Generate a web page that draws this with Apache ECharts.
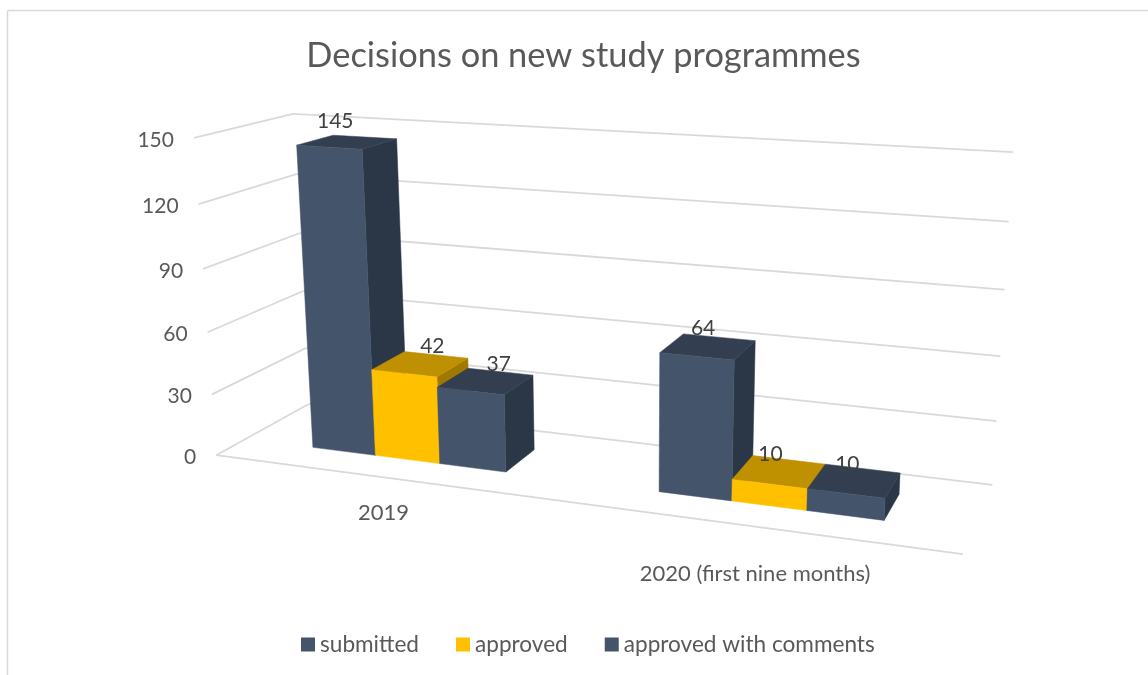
<!DOCTYPE html>
<html><head><meta charset="utf-8">
<style>html,body{margin:0;padding:0;background:#fff}#c{width:1148px;height:675px}</style>
<script src="https://cdn.jsdelivr.net/npm/echarts@6/dist/echarts.min.js"></script>
</head><body><div id="c"></div>
<script>
// ---- data ----
const categories = ['2019', '2020 (first nine months)'];
const submitted = [145, 64];
const approved = [42, 10];
const approvedWithComments = [37, 10];
const valueTicks = [0, 30, 60, 90, 120, 150];

// ---- view: unit cube corners (u along categories, d into depth, v up) -> screen ----
const cubeRefs = [
  [0,0,0, 215,456],[1,0,0, 963,553],[0,1,0, 310,403],[1,1,0, 992,486],
  [0,0,1, 195,138],[0,1,1, 292,114],[1,1,1, 1013,152]
];
function solveCamera(refs){
  const A=[],b=[];
  refs.forEach(r=>{const [u,d,v,x,y]=r;
    A.push([u,d,v,1,0,0,0,0,-x*u,-x*d,-x*v]);b.push(x);
    A.push([0,0,0,0,u,d,v,1,-y*u,-y*d,-y*v]);b.push(y);});
  const n=11,M=[];
  for(let i=0;i<n;i++){M.push([]);for(let j=0;j<=n;j++){let s=0;
    for(let k=0;k<A.length;k++)s+=A[k][i]*(j<n?A[k][j]:b[k]);M[i].push(s);}}
  for(let i=0;i<n;i++){let p=i;for(let r=i+1;r<n;r++)if(Math.abs(M[r][i])>Math.abs(M[p][i]))p=r;
    [M[i],M[p]]=[M[p],M[i]];
    for(let r=0;r<n;r++)if(r!==i){const f=M[r][i]/M[i][i];for(let c=i;c<=n;c++)M[r][c]-=f*M[i][c];}}
  return M.map((row,i)=>row[n]/row[i]);
}
const cam = solveCamera(cubeRefs);
function proj(u,d,v){
  const w=cam[8]*u+cam[9]*d+cam[10]*v+1;
  return [(cam[0]*u+cam[1]*d+cam[2]*v+cam[3])/w,(cam[4]*u+cam[5]*d+cam[6]*v+cam[7])/w];
}
const DEPTH_FRONT=0.3, DEPTH_BACK=0.69, BAR_SHARE=0.192;
const barLabelNudge=[[[-12,-21],[-5,-18]],[[12,-18],[-9,-17]],[[13,-17],[-7,-16]]];
const palette=[
  {front:'#44546A',side:'#2B3747',top:'#333F50'},
  {front:'#FFC000',side:'#A07A00',top:'#BF9000'},
  {front:'#44546A',side:'#2B3747',top:'#333F50'}
];
const FONT='Lato';
function norm(params,pt){const g=params.coordSys;return [(pt[0]-g.x)/g.width,(g.y+g.height-pt[1])/g.height];}
function poly(points,fill){return {type:'polygon',shape:{points},style:{fill,stroke:fill,lineWidth:0.5},silent:true};}

function barRender(sIdx){
  return function(params,api){
    const cat=api.value(0),val=api.value(1);
    const [uc,v]=norm(params,api.coord([cat,val]));
    const band=api.size([1,0])[0]/params.coordSys.width;
    const w=band*BAR_SHARE,u0=uc+(sIdx-1.5)*w,u1=u0+w;
    const c=palette[sIdx],a=DEPTH_FRONT,b=DEPTH_BACK;
    const mid=proj((u0+u1)/2,(a+b)/2,v),nudge=barLabelNudge[sIdx][cat];
    return {type:'group',children:[
      poly([proj(u1,a,0),proj(u1,b,0),proj(u1,b,v),proj(u1,a,v)],c.side),
      poly([proj(u0,a,v),proj(u1,a,v),proj(u1,b,v),proj(u0,b,v)],c.top),
      poly([proj(u0,a,0),proj(u1,a,0),proj(u1,a,v),proj(u0,a,v)],c.front),
      {type:'text',z2:50,silent:true,style:{text:String(val),x:mid[0]+nudge[0],y:mid[1]+nudge[1],
        align:'center',verticalAlign:'middle',fill:'#404040',font:'21px '+FONT}}
    ]};
  };
}
function gridRender(params,api){
  const [,v]=norm(params,api.coord([0,api.value(0)]));
  const line=(p,q)=>({type:'line',shape:{x1:p[0],y1:p[1],x2:q[0],y2:q[1]},style:{stroke:'#D9D9D9',lineWidth:1.8},silent:true});
  const kids=[line(proj(0,0,v),proj(0,1,v)),line(proj(0,1,v),proj(1,1,v))];
  if(api.value(0)===0)kids.push(line(proj(0,0,0),proj(1,0,0)));
  const a=proj(0,0,v);
  kids.push({type:'text',silent:true,style:{text:String(api.value(0)),x:a[0]-20,y:a[1]+2,align:'right',verticalAlign:'middle',fill:'#595959',font:'21px '+FONT}});
  return {type:'group',children:kids};
}
function catRender(params,api){
  const cat=api.value(0);
  const [u]=norm(params,api.coord([cat,0]));
  const p=proj(u,0,0);
  return {type:'text',silent:true,style:{text:categories[cat],x:p[0]+2,y:p[1]+29.5+24*u,align:'center',verticalAlign:'middle',fill:'#595959',font:'22px '+FONT}};
}
const names=['submitted','approved','approved with comments'];
const values=[submitted,approved,approvedWithComments];
const chart=echarts.init(document.getElementById('c'),null,{renderer:'canvas'});
chart.setOption({
  animation:false,backgroundColor:'#fff',
  title:{text:'Decisions on new study programmes',left:578.5,top:34,textAlign:'center',
    textStyle:{fontFamily:FONT,fontSize:34.4,fontWeight:'normal',color:'#595959'}},
  legend:{data:names.map((n,i)=>({name:n,itemStyle:{color:palette[i].front}})),left:296,top:628,itemWidth:14,itemHeight:14,itemGap:37,icon:'rect',
    textStyle:{fontFamily:FONT,fontSize:22.6,color:'#595959'}},
  grid:{left:100,right:100,top:100,bottom:100},
  xAxis:{type:'category',data:categories,show:false},
  yAxis:{type:'value',min:0,max:150,interval:30,show:false},
  graphic:[
    {type:'line',shape:{x1:7.5,y1:10.5,x2:1148,y2:10.5},style:{stroke:'#D9D9D9',lineWidth:1.5},silent:true},
    {type:'line',shape:{x1:7.5,y1:10.5,x2:7.5,y2:675},style:{stroke:'#D9D9D9',lineWidth:1.5},silent:true}
  ],
  series:[
    {type:'custom',name:'walls',clip:false,silent:true,data:valueTicks.map(t=>[t]),encode:{y:0},renderItem:gridRender,z:1},
    {type:'custom',name:'categoryLabels',clip:false,silent:true,data:categories.map((c,i)=>[i]),encode:{x:0},renderItem:catRender,z:1},
    ...names.map((n,s)=>({type:'custom',name:n,clip:false,silent:true,z:2+s,
      itemStyle:{color:palette[s].front},
      data:values[s].map((v,i)=>[i,v]),encode:{x:0,y:1},renderItem:barRender(s)}))
  ]
});
</script></body></html>
